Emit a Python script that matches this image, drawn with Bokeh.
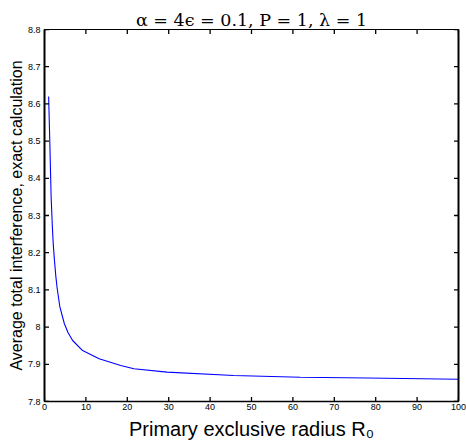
import math
from bokeh.plotting import figure
from bokeh.models import Range1d, LinearAxis, FixedTicker
from bokeh.embed import file_html
from bokeh.resources import INLINE

# Data
R0 = [1, 1.3, 1.6, 1.9, 2.1, 2.4, 2.75, 3.05, 3.7, 4.8, 5.7, 6.8, 9.2, 13.2, 18.4,
      21.6, 29.6, 45.7, 61.8, 78, 100]
interference = [8.62, 8.49, 8.35, 8.27, 8.225, 8.18, 8.135, 8.105, 8.055, 8.009, 7.985,
                7.964, 7.937, 7.915, 7.897, 7.888, 7.879, 7.870, 7.865, 7.863, 7.860]

x_ticks = [0, 10, 20, 30, 40, 50, 60, 70, 80, 90, 100]
x_tick_labels = ["0", "10", "20", "30", "40", "50", "60", "70", "80", "90", "100"]
y_ticks = [7.8, 7.9, 8.0, 8.1, 8.2, 8.3, 8.4, 8.5, 8.6, 8.7, 8.8]
y_tick_labels = ["7.8", "7.9", "8", "8.1", "8.2", "8.3", "8.4", "8.5", "8.6", "8.7", "8.8"]

title_text = "\u03b1 = 4\u03f5 = 0.1, P = 1, \u03bb = 1"
x_label = "Primary exclusive radius R\u2080"
y_label = "Average total interference, exact calculation"

FONT = "Liberation Sans"

x_lo, x_hi = x_ticks[0], x_ticks[-1]
y_lo, y_hi = y_ticks[0], y_ticks[-1]

p = figure(width=466, height=445, output_backend="svg", toolbar_location=None,
           x_range=Range1d(x_lo, x_hi), y_range=Range1d(y_lo, y_hi),
           min_border_left=44, min_border_right=8, min_border_top=29, min_border_bottom=44,
           title=title_text)

p.title.text_font = "DejaVu Serif"
p.title.text_font_size = "17.5px"
p.title.text_font_style = "normal"
p.title.text_color = "black"
p.title.align = "center"
p.title.standoff = 0
p.title.offset = 0

p.xgrid.visible = False
p.ygrid.visible = False
p.outline_line_color = "black"
p.outline_line_width = 1
p.background_fill_color = "white"
p.border_fill_color = "white"

p.line(R0, interference, line_color="#0000ff", line_width=1.1)

# inward tick marks on all four sides (dashes centred on the frame edge, clipped to the frame)
n_x, n_y = len(x_ticks), len(y_ticks)
p.scatter(x_ticks * 2, [y_lo] * n_x + [y_hi] * n_x, marker="dash", size=9,
          angle=math.pi / 2, line_color="black", line_width=1.3)
p.scatter([x_lo] * n_y + [x_hi] * n_y, y_ticks * 2, marker="dash", size=9,
          line_color="black", line_width=1.3)

def style_axis(ax, ticks, labels, show_labels=True, line_width=1):
    ax.ticker = FixedTicker(ticks=ticks, minor_ticks=[])
    ax.major_tick_in = 0
    ax.major_tick_out = 0
    ax.major_tick_line_color = None
    ax.minor_tick_line_color = None
    ax.axis_line_color = "black"
    ax.axis_line_width = line_width
    ax.major_label_text_font = FONT
    ax.major_label_text_color = "black"
    if show_labels:
        ax.major_label_overrides = {t: l for t, l in zip(ticks, labels)}
        ax.major_label_text_font_size = "9px"
    else:
        ax.major_label_overrides = {t: "" for t in ticks}
        ax.major_label_text_font_size = "1px"
        ax.major_label_standoff = 0

xa = p.xaxis[0]
style_axis(xa, x_ticks, x_tick_labels, line_width=1.5)
xa.major_label_standoff = 2
xa.axis_label = x_label
xa.axis_label_text_font = FONT
xa.axis_label_text_font_size = "20px"
xa.axis_label_text_font_style = "normal"
xa.axis_label_text_color = "black"
xa.axis_label_standoff = 5

ya = p.yaxis[0]
style_axis(ya, y_ticks, y_tick_labels, line_width=2)
ya.major_label_standoff = 4
ya.axis_label = y_label
ya.axis_label_text_font = FONT
ya.axis_label_text_font_size = "16px"
ya.axis_label_text_font_style = "normal"
ya.axis_label_text_color = "black"
ya.axis_label_standoff = 0

top = LinearAxis()
style_axis(top, x_ticks, x_tick_labels, show_labels=False, line_width=1)
p.add_layout(top, "above")
right = LinearAxis()
style_axis(right, y_ticks, y_tick_labels, show_labels=False, line_width=2)
p.add_layout(right, "right")

open("out.html", "w").write(file_html(p, INLINE))
